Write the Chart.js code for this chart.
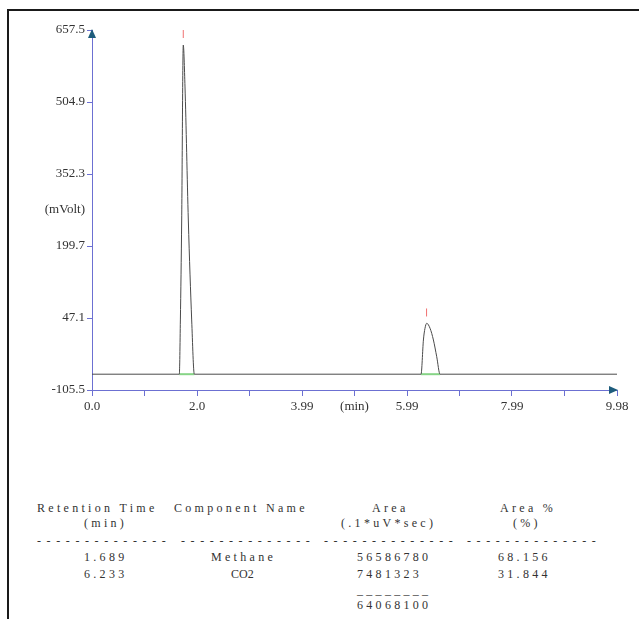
<!DOCTYPE html>
<html>
<head>
<meta charset="utf-8">
<script src="https://cdn.jsdelivr.net/npm/chart.js@4.4.1/dist/chart.umd.min.js"></script>
<style>
    body { margin: 0; background: #fff; }
    #page { position: relative; width: 639px; height: 619px; overflow: hidden; }
    #frame { position: absolute; left: 7px; top: 9px; width: 700px; height: 700px; border-left: 2px solid #1a1a1a; border-top: 2px solid #1a1a1a; }
    #plot { position: absolute; left: 0; top: 0; width: 639px; height: 440px; }
    .cell { position: absolute; font-family: "Liberation Serif", serif; font-size: 12px; line-height: 14px; color: #333; letter-spacing: 3.3px; white-space: pre; }
    .dash { letter-spacing: 5.6px; }
    .tight { letter-spacing: 0; }
</style>
</head>
<body>
<div id="page">
    <div id="frame"></div>
    <div id="plot"><canvas id="myChart"></canvas></div>
    <div id="report"></div>
</div>
<script>
// detector trace (min, mVolt)
var traceTime = [0.0, 1.66, 1.68, 1.705, 1.735, 1.768, 1.831, 1.895, 1.945, 6.255, 6.30, 6.33, 6.363, 6.426, 6.49, 6.553, 6.616, 9.98];
var traceSignal = [-72, -72, 42.9, 254.8, 625.7, 536.7, 254.8, 42.9, -72, -72, 0.5, 25.3, 35.9, 25.3, 0.5, -35, -72, -72];

// integration baselines under each peak
var peakStart = [1.66, 6.255];
var peakEnd = [1.945, 6.616];
var baseLevel = -72;

// peak apex markers
var markTime = [1.735, 6.36];
var markSignal = [649, 58.8];

var xTickValues = [0, 0.998, 1.996, 2.994, 3.992, 4.99, 5.988, 6.986, 7.984, 8.982, 9.98];
var xTickLabels = ['0.0', '', '2.0', '', '3.99', '(min)', '5.99', '', '7.99', '', '9.98'];
var yTickValues = [-105.5, -29.2, 47.1, 123.4, 199.7, 276.0, 352.3, 428.6, 504.9, 581.2, 657.5];
var yTickLabels = ['-105.5', '', '47.1', '', '199.7', '(mVolt)', '352.3', '', '504.9', '', '657.5'];

// peak report
var retentionTimes = ['1.689', '6.233'];
var componentNames = ['Methane', 'CO2'];
var areas = ['56586780', '7481323'];
var areaPercents = ['68.156', '31.844'];
var areaTotal = '64068100';

var axisColor = '#6c70d2';
var arrowColor = '#1d5c7c';

var tracePoints = [];
for (var i = 0; i < traceTime.length; i++) {
    tracePoints.push({ x: traceTime[i], y: traceSignal[i] });
}
var markPoints = [];
for (var i = 0; i < markTime.length; i++) {
    markPoints.push({ x: markTime[i], y: markSignal[i] });
}

var datasets = [];
for (var i = 0; i < peakStart.length; i++) {
    datasets.push({
        data: [{ x: peakStart[i], y: baseLevel }, { x: peakEnd[i], y: baseLevel }],
        showLine: true,
        borderColor: '#86d486',
        borderWidth: 2,
        pointRadius: 0
    });
}
datasets.unshift({
    data: tracePoints,
    showLine: true,
    borderColor: '#4a4a4a',
    borderWidth: 1,
    pointRadius: 0,
    cubicInterpolationMode: 'monotone'
});
datasets.push({
    data: markPoints,
    showLine: false,
    pointStyle: 'line',
    rotation: 90,
    pointRadius: 4,
    borderColor: '#f07070',
    borderWidth: 1
});

// arrow heads at the ends of both axes
var axisArrows = {
    id: 'axisArrows',
    afterDraw: function (chart) {
        var c = chart.ctx;
        var xs = chart.scales.x, ys = chart.scales.y;
        var x0 = xs.getPixelForValue(0), xEnd = xs.getPixelForValue(9.98);
        var yBot = ys.getPixelForValue(-105.5), yTop = ys.getPixelForValue(657.5);
        c.save();
        c.fillStyle = arrowColor;
        c.beginPath();
        c.moveTo(x0, yTop - 1);
        c.lineTo(x0 - 4, yTop + 8);
        c.lineTo(x0 + 4, yTop + 8);
        c.closePath();
        c.fill();
        c.beginPath();
        c.moveTo(xEnd + 1, yBot);
        c.lineTo(xEnd - 8, yBot - 4);
        c.lineTo(xEnd - 8, yBot + 4);
        c.closePath();
        c.fill();
        c.restore();
    }
};

var tickFont = { family: 'Liberation Serif', size: 13 };

new Chart('myChart', {
    type: 'scatter',
    data: { datasets: datasets },
    plugins: [axisArrows],
    options: {
        responsive: true,
        maintainAspectRatio: false,
        animation: false,
        layout: { padding: { top: 30, right: 22, left: 0, bottom: 0 } },
        plugins: { legend: { display: false }, tooltip: { enabled: false } },
        scales: {
            x: {
                type: 'linear',
                min: 0,
                max: 9.98,
                afterBuildTicks: function (scale) {
                    scale.ticks = xTickValues.map(function (v) { return { value: v }; });
                },
                afterFit: function (scale) { scale.height = 50; },
                ticks: {
                    autoSkip: false,
                    maxRotation: 0,
                    padding: 3,
                    color: '#333',
                    font: tickFont,
                    callback: function (v, idx) { return xTickLabels[idx]; }
                },
                grid: { drawOnChartArea: false, drawTicks: true, tickLength: 6, color: axisColor },
                border: { color: axisColor, width: 1 }
            },
            y: {
                type: 'linear',
                min: -105.5,
                max: 657.5,
                afterBuildTicks: function (scale) {
                    scale.ticks = yTickValues.map(function (v) { return { value: v }; });
                },
                afterFit: function (scale) { scale.width = 92; },
                ticks: {
                    autoSkip: false,
                    padding: 2,
                    color: '#333',
                    font: tickFont,
                    callback: function (v, idx) { return yTickLabels[idx]; }
                },
                grid: {
                    drawOnChartArea: false,
                    drawTicks: true,
                    tickLength: 5,
                    color: function (ctx) {
                        var lab = yTickLabels[ctx.index];
                        return (lab && lab !== '(mVolt)') ? axisColor : 'rgba(0,0,0,0)';
                    }
                },
                border: { color: axisColor, width: 1 }
            }
        }
    }
});

// text report under the chromatogram
var report = document.getElementById('report');
function cell(text, left, mid, cls) {
    var d = document.createElement('div');
    d.className = 'cell' + (cls ? ' ' + cls : '');
    d.style.left = left + 'px';
    d.style.top = (mid - 7) + 'px';
    d.textContent = text;
    report.appendChild(d);
}
cell('Retention Time', 37, 508);
cell('Component Name', 174, 508);
cell('Area', 372, 508);
cell('Area %', 500, 508);
cell('(min)', 84, 523);
cell('(.1*uV*sec)', 341, 523);
cell('(%)', 513, 523);
var dashes = '--------------';
cell(dashes, 37, 541, 'dash');
cell(dashes, 181, 541, 'dash');
cell(dashes, 324, 541, 'dash');
cell(dashes, 467, 541, 'dash');
var rowMid = [557, 574];
for (var r = 0; r < retentionTimes.length; r++) {
    cell(retentionTimes[r], 84, rowMid[r]);
    cell(componentNames[r], componentNames[r] === 'CO2' ? 231 : 211, rowMid[r], componentNames[r] === 'CO2' ? 'tight' : '');
    cell(areas[r], 357, rowMid[r]);
    cell(areaPercents[r], 498, rowMid[r]);
}
cell('________', 357, 590);
cell(areaTotal, 357, 605);
</script>
</body>
</html>
